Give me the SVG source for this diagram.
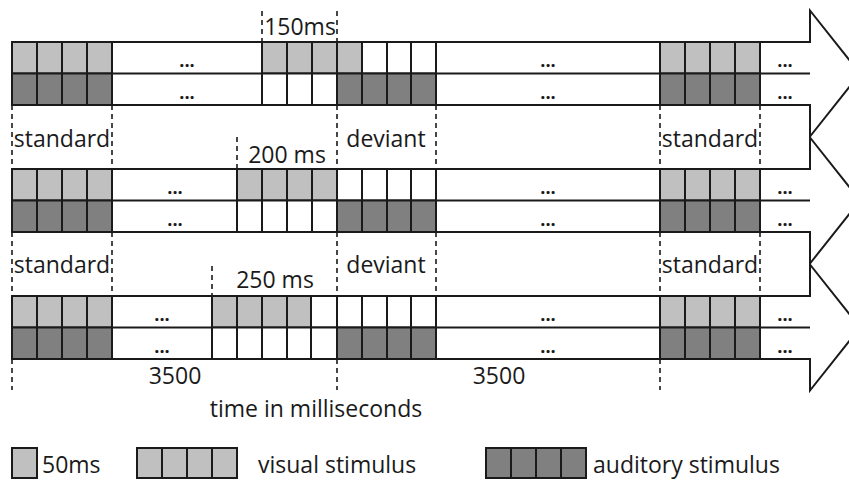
<svg xmlns="http://www.w3.org/2000/svg" width="849" height="480" viewBox="0 0 849 480">
<style>
.arrow{fill:#fff;stroke:#1a1a1a;stroke-width:2;stroke-linejoin:miter}
.ln{stroke:#1a1a1a;stroke-width:2;fill:none}
.lt{fill:#c0c0c0;stroke:#1a1a1a;stroke-width:2}
.dk{fill:#808080;stroke:#1a1a1a;stroke-width:2}
.wh{fill:#fff;stroke:#1a1a1a;stroke-width:2}
.dash{stroke:#1a1a1a;stroke-width:1.6;stroke-dasharray:5,4;fill:none}
text{font-family:"Open Sans","Noto Sans",sans-serif;fill:#1a1a1a}
.lbl{font-size:23px;text-anchor:middle}
.lg{font-size:23px}
.dots{font-size:18px;font-weight:bold;text-anchor:middle}
</style>
<rect width="849" height="480" fill="#fff"/>

<g id="row1">
<path class="arrow" d="M12,42 H810 V10.5 L860,73.5 L810,136.5 V105 H12 Z"/>
<line class="ln" x1="12" y1="73.5" x2="810" y2="73.5"/>
<g>
<rect class="lt" x="12" y="42" width="25" height="31.5"/><rect class="lt" x="37" y="42" width="25" height="31.5"/><rect class="lt" x="62" y="42" width="25" height="31.5"/><rect class="lt" x="87" y="42" width="25" height="31.5"/>
<rect class="dk" x="12" y="73.5" width="25" height="31.5"/><rect class="dk" x="37" y="73.5" width="25" height="31.5"/><rect class="dk" x="62" y="73.5" width="25" height="31.5"/><rect class="dk" x="87" y="73.5" width="25" height="31.5"/>
</g>
<g>
<rect class="lt" x="262" y="42" width="25" height="31.5"/><rect class="lt" x="287" y="42" width="25" height="31.5"/><rect class="lt" x="312" y="42" width="25" height="31.5"/><rect class="lt" x="337" y="42" width="25" height="31.5"/>
<rect class="wh" x="362" y="42" width="25" height="31.5"/><rect class="wh" x="387" y="42" width="24" height="31.5"/><rect class="wh" x="411" y="42" width="25" height="31.5"/>
<rect class="wh" x="262" y="73.5" width="25" height="31.5"/><rect class="wh" x="287" y="73.5" width="25" height="31.5"/><rect class="wh" x="312" y="73.5" width="25" height="31.5"/>
<rect class="dk" x="337" y="73.5" width="25" height="31.5"/><rect class="dk" x="362" y="73.5" width="25" height="31.5"/><rect class="dk" x="387" y="73.5" width="24" height="31.5"/><rect class="dk" x="411" y="73.5" width="25" height="31.5"/>
</g>
<g>
<rect class="lt" x="660" y="42" width="25" height="31.5"/><rect class="lt" x="685" y="42" width="25" height="31.5"/><rect class="lt" x="710" y="42" width="25" height="31.5"/><rect class="lt" x="735" y="42" width="25" height="31.5"/>
<rect class="dk" x="660" y="73.5" width="25" height="31.5"/><rect class="dk" x="685" y="73.5" width="25" height="31.5"/><rect class="dk" x="710" y="73.5" width="25" height="31.5"/><rect class="dk" x="735" y="73.5" width="25" height="31.5"/>
</g>
<text class="dots" x="187" y="67">...</text><text class="dots" x="187" y="99">...</text>
<text class="dots" x="548" y="67">...</text><text class="dots" x="548" y="99">...</text>
<text class="dots" x="785" y="67">...</text><text class="dots" x="785" y="99">...</text>
</g>

<g id="row2">
<path class="arrow" d="M12,169 H810 V137.5 L860,200.5 L810,263.5 V232 H12 Z"/>
<line class="ln" x1="12" y1="200.5" x2="810" y2="200.5"/>
<g>
<rect class="lt" x="12" y="169" width="25" height="31.5"/><rect class="lt" x="37" y="169" width="25" height="31.5"/><rect class="lt" x="62" y="169" width="25" height="31.5"/><rect class="lt" x="87" y="169" width="25" height="31.5"/>
<rect class="dk" x="12" y="200.5" width="25" height="31.5"/><rect class="dk" x="37" y="200.5" width="25" height="31.5"/><rect class="dk" x="62" y="200.5" width="25" height="31.5"/><rect class="dk" x="87" y="200.5" width="25" height="31.5"/>
</g>
<g>
<rect class="lt" x="237" y="169" width="25" height="31.5"/><rect class="lt" x="262" y="169" width="25" height="31.5"/><rect class="lt" x="287" y="169" width="25" height="31.5"/><rect class="lt" x="312" y="169" width="25" height="31.5"/>
<rect class="wh" x="337" y="169" width="25" height="31.5"/><rect class="wh" x="362" y="169" width="25" height="31.5"/><rect class="wh" x="387" y="169" width="24" height="31.5"/><rect class="wh" x="411" y="169" width="25" height="31.5"/>
<rect class="wh" x="237" y="200.5" width="25" height="31.5"/><rect class="wh" x="262" y="200.5" width="25" height="31.5"/><rect class="wh" x="287" y="200.5" width="25" height="31.5"/><rect class="wh" x="312" y="200.5" width="25" height="31.5"/>
<rect class="dk" x="337" y="200.5" width="25" height="31.5"/><rect class="dk" x="362" y="200.5" width="25" height="31.5"/><rect class="dk" x="387" y="200.5" width="24" height="31.5"/><rect class="dk" x="411" y="200.5" width="25" height="31.5"/>
</g>
<g>
<rect class="lt" x="660" y="169" width="25" height="31.5"/><rect class="lt" x="685" y="169" width="25" height="31.5"/><rect class="lt" x="710" y="169" width="25" height="31.5"/><rect class="lt" x="735" y="169" width="25" height="31.5"/>
<rect class="dk" x="660" y="200.5" width="25" height="31.5"/><rect class="dk" x="685" y="200.5" width="25" height="31.5"/><rect class="dk" x="710" y="200.5" width="25" height="31.5"/><rect class="dk" x="735" y="200.5" width="25" height="31.5"/>
</g>
<text class="dots" x="175" y="194">...</text><text class="dots" x="175" y="226">...</text>
<text class="dots" x="548" y="194">...</text><text class="dots" x="548" y="226">...</text>
<text class="dots" x="785" y="194">...</text><text class="dots" x="785" y="226">...</text>
</g>

<g id="row3">
<path class="arrow" d="M12,296 H810 V264.5 L860,327.5 L810,390.5 V359 H12 Z"/>
<line class="ln" x1="12" y1="327.5" x2="810" y2="327.5"/>
<g>
<rect class="lt" x="12" y="296" width="25" height="31.5"/><rect class="lt" x="37" y="296" width="25" height="31.5"/><rect class="lt" x="62" y="296" width="25" height="31.5"/><rect class="lt" x="87" y="296" width="25" height="31.5"/>
<rect class="dk" x="12" y="327.5" width="25" height="31.5"/><rect class="dk" x="37" y="327.5" width="25" height="31.5"/><rect class="dk" x="62" y="327.5" width="25" height="31.5"/><rect class="dk" x="87" y="327.5" width="25" height="31.5"/>
</g>
<g>
<rect class="lt" x="212" y="296" width="25" height="31.5"/><rect class="lt" x="237" y="296" width="25" height="31.5"/><rect class="lt" x="262" y="296" width="25" height="31.5"/><rect class="lt" x="287" y="296" width="24" height="31.5"/>
<rect class="wh" x="311" y="296" width="26" height="31.5"/><rect class="wh" x="337" y="296" width="25" height="31.5"/><rect class="wh" x="362" y="296" width="25" height="31.5"/><rect class="wh" x="387" y="296" width="24" height="31.5"/><rect class="wh" x="411" y="296" width="25" height="31.5"/>
<rect class="wh" x="212" y="327.5" width="25" height="31.5"/><rect class="wh" x="237" y="327.5" width="25" height="31.5"/><rect class="wh" x="262" y="327.5" width="25" height="31.5"/><rect class="wh" x="287" y="327.5" width="24" height="31.5"/><rect class="wh" x="311" y="327.5" width="26" height="31.5"/>
<rect class="dk" x="337" y="327.5" width="25" height="31.5"/><rect class="dk" x="362" y="327.5" width="25" height="31.5"/><rect class="dk" x="387" y="327.5" width="24" height="31.5"/><rect class="dk" x="411" y="327.5" width="25" height="31.5"/>
</g>
<g>
<rect class="lt" x="660" y="296" width="25" height="31.5"/><rect class="lt" x="685" y="296" width="25" height="31.5"/><rect class="lt" x="710" y="296" width="25" height="31.5"/><rect class="lt" x="735" y="296" width="25" height="31.5"/>
<rect class="dk" x="660" y="327.5" width="25" height="31.5"/><rect class="dk" x="685" y="327.5" width="25" height="31.5"/><rect class="dk" x="710" y="327.5" width="25" height="31.5"/><rect class="dk" x="735" y="327.5" width="25" height="31.5"/>
</g>
<text class="dots" x="162" y="321">...</text><text class="dots" x="162" y="353">...</text>
<text class="dots" x="548" y="321">...</text><text class="dots" x="548" y="353">...</text>
<text class="dots" x="785" y="321">...</text><text class="dots" x="785" y="353">...</text>
</g>

<g id="connectors">
<line class="dash" x1="262" y1="11" x2="262" y2="42"/>
<line class="dash" x1="337" y1="11" x2="337" y2="42"/>
<line class="dash" x1="12" y1="105" x2="12" y2="169"/>
<line class="dash" x1="112" y1="105" x2="112" y2="169"/>
<line class="dash" x1="337" y1="105" x2="337" y2="169"/>
<line class="dash" x1="436" y1="105" x2="436" y2="169"/>
<line class="dash" x1="660" y1="105" x2="660" y2="169"/>
<line class="dash" x1="760" y1="105" x2="760" y2="169"/>
<line class="dash" x1="237" y1="137" x2="237" y2="169"/>
<line class="dash" x1="12" y1="232" x2="12" y2="296"/>
<line class="dash" x1="112" y1="232" x2="112" y2="296"/>
<line class="dash" x1="337" y1="232" x2="337" y2="296"/>
<line class="dash" x1="436" y1="232" x2="436" y2="296"/>
<line class="dash" x1="660" y1="232" x2="660" y2="296"/>
<line class="dash" x1="760" y1="232" x2="760" y2="296"/>
<line class="dash" x1="212" y1="266" x2="212" y2="296"/>
<line class="dash" x1="12" y1="359" x2="12" y2="390"/>
<line class="dash" x1="337" y1="359" x2="337" y2="390"/>
<line class="dash" x1="660" y1="359" x2="660" y2="390"/>
</g>

<g id="labels">
<text class="lbl" x="300" y="35">150ms</text>
<text class="lbl" x="62" y="147">standard</text>
<text class="lbl" x="386" y="147">deviant</text>
<text class="lbl" x="710" y="147">standard</text>
<text class="lbl" x="287" y="163">200 ms</text>
<text class="lbl" x="62" y="273">standard</text>
<text class="lbl" x="386" y="273">deviant</text>
<text class="lbl" x="710" y="273">standard</text>
<text class="lbl" x="275" y="288">250 ms</text>
<text class="lbl" x="175" y="384">3500</text>
<text class="lbl" x="499" y="384">3500</text>
<text class="lbl" x="316" y="417">time in milliseconds</text>
</g>

<g id="legend">
<rect class="lt" x="12" y="448" width="25" height="30"/>
<text class="lg" x="42" y="473">50ms</text>
<rect class="lt" x="137" y="448" width="25" height="30"/><rect class="lt" x="162" y="448" width="25" height="30"/><rect class="lt" x="187" y="448" width="25" height="30"/><rect class="lt" x="212" y="448" width="25" height="30"/>
<text class="lg" x="258" y="473">visual stimulus</text>
<rect class="dk" x="486" y="448" width="25" height="30"/><rect class="dk" x="511" y="448" width="25" height="30"/><rect class="dk" x="536" y="448" width="25" height="30"/><rect class="dk" x="561" y="448" width="25" height="30"/>
<text class="lg" x="593" y="473">auditory stimulus</text>
</g>
</svg>
